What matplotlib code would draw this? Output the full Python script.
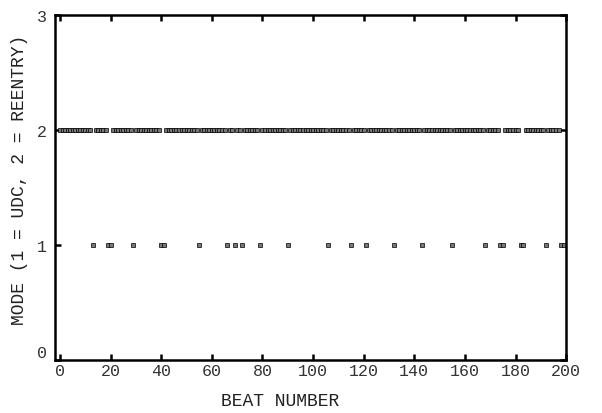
import numpy as np
import matplotlib
matplotlib.use("Agg")
import matplotlib.pyplot as plt

# mode per beat: 1 = UDC, 2 = REENTRY (beats 0..199)
beats = np.arange(200)
modes = [
    2, 2, 2, 2, 2, 2, 2, 2, 2, 2, 2, 2, 2, 1, 2, 2, 2, 2, 2, 1,
    1, 2, 2, 2, 2, 2, 2, 2, 2, 1, 2, 2, 2, 2, 2, 2, 2, 2, 2, 2,
    1, 1, 2, 2, 2, 2, 2, 2, 2, 2, 2, 2, 2, 2, 2, 1, 2, 2, 2, 2,
    2, 2, 2, 2, 2, 2, 1, 2, 2, 1, 2, 2, 1, 2, 2, 2, 2, 2, 2, 1,
    2, 2, 2, 2, 2, 2, 2, 2, 2, 2, 1, 2, 2, 2, 2, 2, 2, 2, 2, 2,
    2, 2, 2, 2, 2, 2, 1, 2, 2, 2, 2, 2, 2, 2, 2, 1, 2, 2, 2, 2,
    2, 1, 2, 2, 2, 2, 2, 2, 2, 2, 2, 2, 1, 2, 2, 2, 2, 2, 2, 2,
    2, 2, 2, 1, 2, 2, 2, 2, 2, 2, 2, 2, 2, 2, 2, 1, 2, 2, 2, 2,
    2, 2, 2, 2, 2, 2, 2, 2, 1, 2, 2, 2, 2, 2, 1, 1, 2, 2, 2, 2,
    2, 2, 1, 1, 2, 2, 2, 2, 2, 2, 2, 2, 1, 2, 2, 2, 2, 2, 1, 1,
]

plt.rcParams['font.family'] = ['Liberation Mono', 'DejaVu Sans Mono']

fig = plt.figure(figsize=(6.02, 4.14), dpi=100)
ax = fig.add_axes([0.0914, 0.128, 0.849, 0.8334])

ax.plot(beats, modes, linestyle='none', marker='s', markersize=2.7,
        markerfacecolor='#777777', markeredgecolor='black', markeredgewidth=0.5,
        clip_on=False)

ax.set_xlim(-2, 200)
ax.set_ylim(0, 3)
ax.set_xticks(range(0, 201, 20))
ax.set_yticks([0, 1, 2, 3])

for s in ax.spines.values():
    s.set_linewidth(1.8)

ax.tick_params(direction='in', length=4, width=1.8, top=True, right=True,
               labelsize=12, labelcolor='#333333')
ax.tick_params(axis='x', pad=2)
ax.tick_params(axis='y', pad=6)

# the 0 on the y axis sits a little above the bottom spine
ax.get_yticklabels()[0].set_verticalalignment('bottom')

ax.set_xlabel('BEAT NUMBER', fontsize=13, color='#222222', x=0.44, labelpad=10)
ax.set_ylabel('MODE (1 = UDC, 2 = REENTRY)', fontsize=13, color='#222222',
              y=0.525, labelpad=6)

fig.savefig('out.png', dpi=100)
